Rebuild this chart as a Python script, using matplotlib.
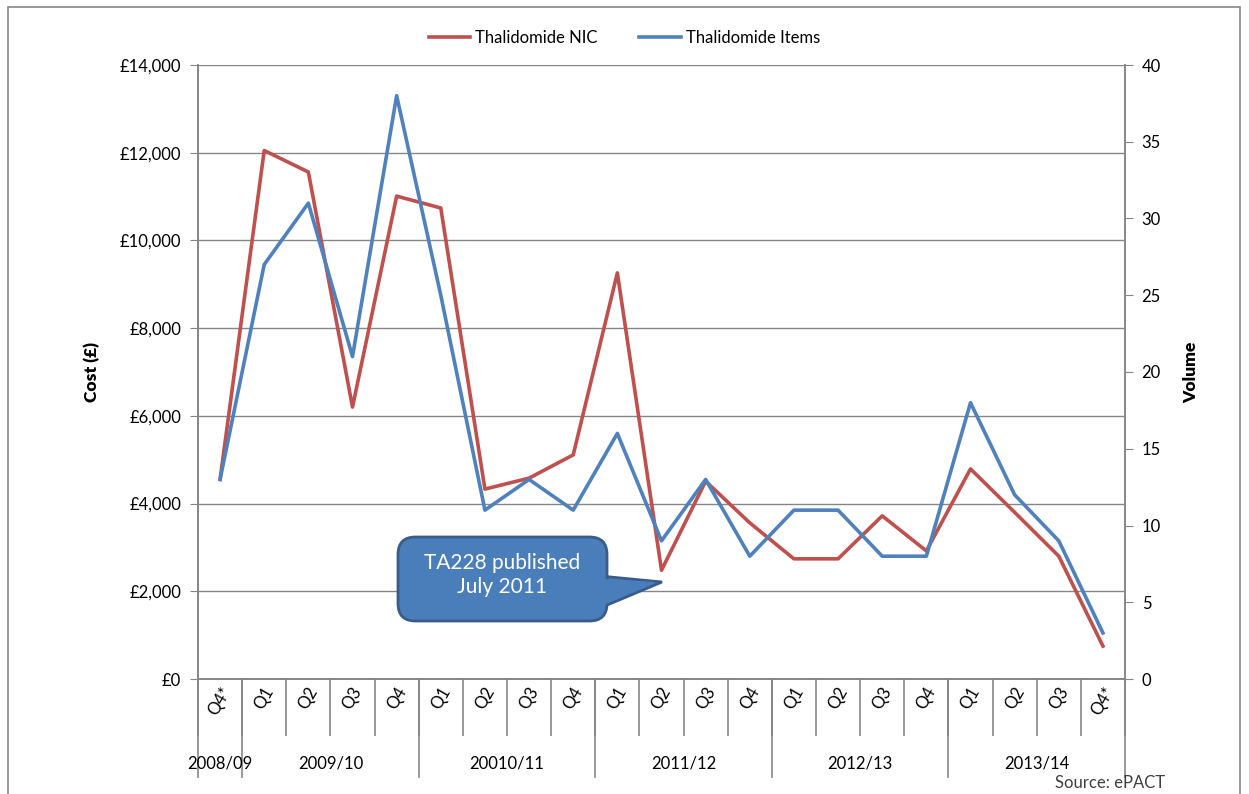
import matplotlib.pyplot as plt
from matplotlib.patches import Rectangle, FancyBboxPatch, Polygon
from matplotlib.ticker import FuncFormatter, MultipleLocator
import numpy as np

quarters = ['Q4*', 'Q1', 'Q2', 'Q3', 'Q4', 'Q1', 'Q2', 'Q3', 'Q4', 'Q1', 'Q2',
            'Q3', 'Q4', 'Q1', 'Q2', 'Q3', 'Q4', 'Q1', 'Q2', 'Q3', 'Q4*']
years = ['2008/09', '2009/10', '20010/11', '2011/12', '2012/13', '2013/14']
year_sizes = [1, 4, 4, 4, 4, 4]

nic_cost = [4550, 12050, 11560, 6200, 11010, 10740, 4330, 4580, 5110, 9260, 2480,
            4510, 3560, 2740, 2740, 3720, 2920, 4790, 3800, 2800, 750]
items = [13, 27, 31, 21, 38, 25, 11, 13, 11, 16, 9, 13, 8, 11, 11, 8, 8, 18, 12, 9, 3]

red = '#C0504D'
blue = '#4F81BD'
grey = '#868686'

plt.rcParams['font.family'] = ['Lato', 'DejaVu Sans']

W, H = 1249, 794
fig = plt.figure(figsize=(W / 100, H / 100), dpi=100)
ax = fig.add_axes([198 / W, 115 / H, 927 / W, 614 / H])
ax2 = ax.twinx()

x = np.arange(len(quarters))
ax.plot(x, nic_cost, color=red, lw=2.6, label='Thalidomide NIC', zorder=3)
ax2.plot(x, items, color=blue, lw=2.6, label='Thalidomide Items', zorder=3)

ax.set_xlim(-0.5, len(quarters) - 0.5)
ax.set_ylim(0, 14000)
ax2.set_ylim(0, 40)
ax.yaxis.set_major_locator(MultipleLocator(2000))
ax2.yaxis.set_major_locator(MultipleLocator(5))
ax.yaxis.set_major_formatter(FuncFormatter(lambda v, p: '£{:,.0f}'.format(v)))
ax.grid(axis='y', color=grey, lw=1)
ax.set_axisbelow(True)

for a in (ax, ax2):
    a.spines['top'].set_visible(False)
    for s in ('left', 'right', 'bottom'):
        a.spines[s].set_color(grey)
        a.spines[s].set_linewidth(1.2)
    a.tick_params(axis='y', length=6, color=grey, labelsize=12, pad=6)

ax.set_ylabel('Cost (£)', fontsize=12.5, fontweight='heavy', labelpad=14)
ax2.set_ylabel('Volume', fontsize=12.5, fontweight='heavy', labelpad=16)

# category axis: quarter labels with separators between categories
ax.set_xticks(x)
ax.set_xticklabels(quarters, rotation=60, fontsize=12, ha='center', va='top')
ax.tick_params(axis='x', which='major', length=0, pad=4)
ax.set_xticks(np.arange(-0.5, len(quarters), 1), minor=True)
ax.tick_params(axis='x', which='minor', length=41, color=grey, width=1.2)

# year groups
trans = ax.get_xaxis_transform()
bounds = np.concatenate([[-0.5], np.cumsum(year_sizes) - 0.5])
for b in bounds:
    ax.plot([b, b], [0, -0.16], transform=trans, color=grey, lw=1.2, clip_on=False)
for i, yr in enumerate(years):
    ax.text((bounds[i] + bounds[i + 1]) / 2, -0.138, yr, transform=trans,
            ha='center', va='center', fontsize=12)

# legend
h1, l1 = ax.get_legend_handles_labels()
h2, l2 = ax2.get_legend_handles_labels()
fig.legend(h1 + h2, l1 + l2, loc='center', bbox_to_anchor=(0.5, 1 - 38 / H),
           ncol=2, frameon=False, fontsize=12, handlelength=2.5,
           handletextpad=0.3, columnspacing=2.5)

# callout (figure pixel placement)
def fp(px, py):
    return (px / W, 1 - py / H)

box_fc, box_ec = '#4A7EBB', '#385D8A'
tail = Polygon([fp(600, 576), fp(662, 582), fp(600, 608)], closed=True,
               transform=fig.transFigure, fc=box_fc, ec=box_ec, lw=2, zorder=5)
bx0, by0 = fp(398, 621)
bx1, by1 = fp(607, 537)
box = FancyBboxPatch((bx0, by0), bx1 - bx0, by1 - by0,
                     boxstyle='round,pad=0,rounding_size=0.014',
                     mutation_aspect=W / H,
                     transform=fig.transFigure, fc=box_fc, ec=box_ec, lw=2,
                     zorder=6)
fig.patches.extend([tail, box])
cover = Polygon([fp(604, 579), fp(655, 582), fp(604, 605)], closed=True,
                transform=fig.transFigure, fc=box_fc, ec='none', zorder=7)
fig.patches.append(cover)
fig.text(502 / W, 1 - 575 / H, 'TA228 published\nJuly 2011', fontsize=15,
         color='white', ha='center', va='center', zorder=8, linespacing=1.25)

fig.text(1055 / W, 1 - 783 / H, 'Source: ePACT', fontsize=12,
         color='#404040', ha='left', va='center')

# chart frame
fig.patches.append(Rectangle((8 / W, -0.01), 1232 / W, 1 - 7 / H + 0.01,
                             transform=fig.transFigure, fill=False,
                             ec=grey, lw=1.2))

fig.savefig('out.png', dpi=100)
